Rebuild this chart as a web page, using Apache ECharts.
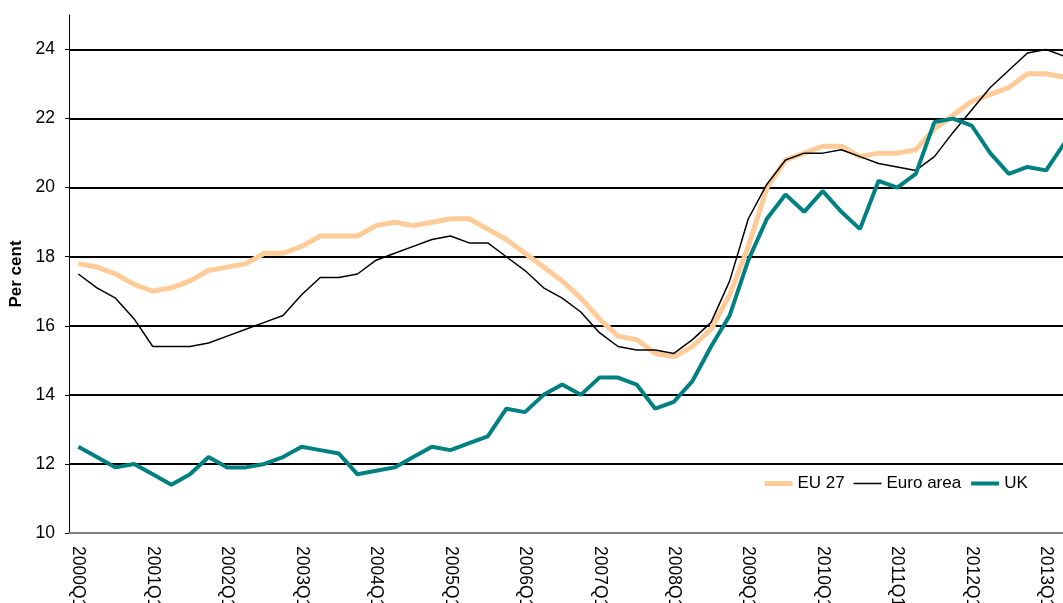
<!DOCTYPE html>
<html>
<head>
<meta charset="utf-8">
<script src="https://cdn.jsdelivr.net/npm/echarts@6/dist/echarts.min.js"></script>
<style>
  html, body { margin: 0; padding: 0; background: #fff; }
  #chart { width: 1063px; height: 603px; }
</style>
</head>
<body>
<div id="chart"></div>
<script>
// quarters 2000Q1 .. 2013Q2
const years = [2000, 2001, 2002, 2003, 2004, 2005, 2006, 2007, 2008, 2009, 2010, 2011, 2012, 2013];
const quarters = [];
years.forEach((y) => {
  for (let q = 1; q <= 4; q++) {
    if (y === 2013 && q > 2) break;
    quarters.push(y + 'Q' + q);
  }
});

const eu27 = [17.8, 17.7, 17.5, 17.2, 17.0, 17.1, 17.3, 17.6, 17.7, 17.8,
  18.1, 18.1, 18.3, 18.6, 18.6, 18.6, 18.9, 19.0, 18.9, 19.0,
  19.1, 19.1, 18.8, 18.5, 18.1, 17.7, 17.3, 16.8, 16.2, 15.7,
  15.6, 15.2, 15.1, 15.4, 15.9, 16.9, 18.3, 20.0, 20.8, 21.0,
  21.2, 21.2, 20.9, 21.0, 21.0, 21.1, 21.7, 22.1, 22.5, 22.7,
  22.9, 23.3, 23.3, 23.2];

const euroArea = [17.5, 17.1, 16.8, 16.2, 15.4, 15.4, 15.4, 15.5, 15.7, 15.9,
  16.1, 16.3, 16.9, 17.4, 17.4, 17.5, 17.9, 18.1, 18.3, 18.5,
  18.6, 18.4, 18.4, 18.0, 17.6, 17.1, 16.8, 16.4, 15.8, 15.4,
  15.3, 15.3, 15.2, 15.6, 16.1, 17.3, 19.1, 20.1, 20.8, 21.0,
  21.0, 21.1, 20.9, 20.7, 20.6, 20.5, 20.9, 21.6, 22.25, 22.9,
  23.4, 23.9, 24.0, 23.8];

const uk = [12.5, 12.2, 11.9, 12.0, 11.7, 11.4, 11.7, 12.2, 11.9, 11.9,
  12.0, 12.2, 12.5, 12.4, 12.3, 11.7, 11.8, 11.9, 12.2, 12.5,
  12.4, 12.6, 12.8, 13.6, 13.5, 14.0, 14.3, 14.0, 14.5, 14.5,
  14.3, 13.6, 13.8, 14.4, 15.4, 16.3, 17.9, 19.1, 19.8, 19.3,
  19.9, 19.3, 18.8, 20.2, 20.0, 20.4, 21.9, 22.0, 21.8, 21.0,
  20.4, 20.6, 20.5, 21.3];

const font = "'Liberation Sans', Arial, sans-serif";

const chart = echarts.init(document.getElementById('chart'));

const option = {
  animation: false,
  textStyle: { fontFamily: font },
  grid: {
    left: 69,
    top: 15,
    right: -11,
    bottom: 70,
    containLabel: false,
    outerBoundsMode: 'none',
  },
  legend: {
    left: 762,
    top: 475,
    padding: 0,
    itemWidth: 28,
    itemHeight: 14,
    itemGap: 8,
    itemStyle: { opacity: 0 },
    textStyle: { color: '#000', fontSize: 17, fontFamily: font },
    data: [
      { name: 'EU 27', lineStyle: { width: 5, color: '#FFCC99' } },
      { name: 'Euro area', lineStyle: { width: 1.5, color: '#000' } },
      { name: 'UK', lineStyle: { width: 4, color: '#008080' } },
    ],
  },
  xAxis: {
    type: 'category',
    data: quarters,
    boundaryGap: true,
    axisLine: { lineStyle: { color: '#808080', width: 2 } },
    axisTick: {
      interval: 0,
      length: 6,
      lineStyle: { color: '#808080', width: 1.5 },
    },
    axisLabel: {
      interval: 3,
      rotate: -90,
      margin: 13,
      color: '#000',
      fontSize: 17.5,
      fontFamily: font,
    },
    splitLine: { show: false },
  },
  yAxis: {
    type: 'value',
    min: 10,
    max: 25,
    interval: 2,
    name: 'Per cent',
    nameLocation: 'middle',
    nameGap: 40,
    nameTextStyle: { color: '#000', fontSize: 17, fontWeight: 'bold', fontFamily: font },
    axisLine: { show: true, lineStyle: { color: '#000', width: 1 } },
    axisTick: { show: true, length: 4, lineStyle: { color: '#000' } },
    axisLabel: {
      color: '#000',
      fontSize: 17.5,
      margin: 14,
      fontFamily: font,
      showMaxLabel: false,
    },
    splitLine: {
      show: true,
      showMinLine: false,
      showMaxLine: false,
      lineStyle: { color: '#000', width: 2 },
    },
  },
  series: [
    {
      name: 'EU 27',
      type: 'line',
      data: eu27,
      symbol: 'none',
      lineStyle: { color: '#FFCC99', width: 5 },
      itemStyle: { color: '#FFCC99' },
    },
    {
      name: 'Euro area',
      type: 'line',
      data: euroArea,
      symbol: 'none',
      lineStyle: { color: '#000', width: 1.5 },
      itemStyle: { color: '#000' },
    },
    {
      name: 'UK',
      type: 'line',
      data: uk,
      symbol: 'none',
      lineStyle: { color: '#008080', width: 4 },
      itemStyle: { color: '#008080' },
    },
  ],
};

chart.setOption(option);
</script>
</body>
</html>
